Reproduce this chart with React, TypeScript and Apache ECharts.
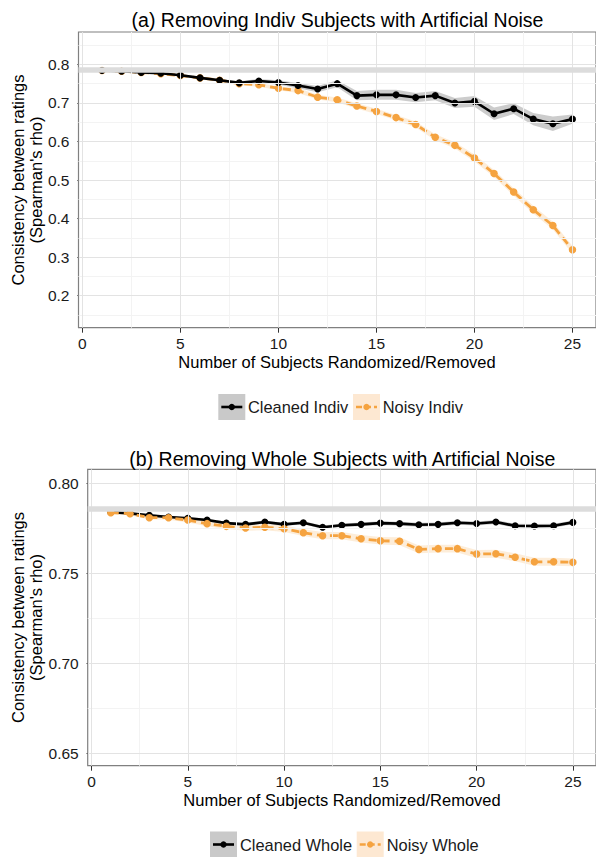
import { useEffect, useRef } from "react";
import * as echarts from "echarts";

const FONT = "'Liberation Sans', Arial, Helvetica, sans-serif";

const xValues = [1, 2, 3, 4, 5, 6, 7, 8, 9, 10, 11, 12, 13, 14, 15, 16, 17, 18, 19, 20, 21, 22, 23, 24, 25];
const xTicks = [0, 5, 10, 15, 20, 25];
const xMinor = [2.5, 7.5, 12.5, 17.5, 22.5];

// (a) individual subjects
const cleanedIndiv = [0.784, 0.782, 0.779, 0.777, 0.772, 0.765, 0.759, 0.752, 0.757, 0.753, 0.745, 0.736, 0.750, 0.719, 0.721, 0.721, 0.714, 0.719, 0.700, 0.704, 0.672, 0.685, 0.658, 0.646, 0.658];
const cleanedIndivSpread = [0.002, 0.002, 0.002, 0.003, 0.003, 0.003, 0.004, 0.004, 0.005, 0.006, 0.007, 0.008, 0.009, 0.012, 0.013, 0.013, 0.012, 0.012, 0.013, 0.014, 0.016, 0.014, 0.016, 0.019, 0.012];
const noisyIndiv = [0.784, 0.782, 0.779, 0.776, 0.771, 0.765, 0.759, 0.750, 0.747, 0.738, 0.732, 0.715, 0.708, 0.692, 0.678, 0.662, 0.644, 0.611, 0.590, 0.557, 0.517, 0.469, 0.423, 0.382, 0.319];
const noisyIndivSpread = [0.002, 0.002, 0.002, 0.002, 0.003, 0.003, 0.003, 0.004, 0.005, 0.005, 0.006, 0.006, 0.006, 0.007, 0.007, 0.007, 0.008, 0.008, 0.008, 0.009, 0.009, 0.010, 0.010, 0.010, 0.010];
const yTicksA = [0.2, 0.3, 0.4, 0.5, 0.6, 0.7, 0.8];
const yMinorA = [0.15, 0.25, 0.35, 0.45, 0.55, 0.65, 0.75, 0.85];

// (b) whole subjects
const cleanedWhole = [0.7840, 0.7833, 0.7822, 0.7813, 0.7806, 0.7796, 0.7779, 0.7772, 0.7785, 0.7772, 0.7781, 0.7756, 0.7767, 0.7772, 0.7779, 0.7776, 0.7770, 0.7772, 0.7781, 0.7777, 0.7785, 0.7764, 0.7763, 0.7764, 0.7783];
const cleanedWholeSpread = [0.0004, 0.0005, 0.0006, 0.0006, 0.0007, 0.0007, 0.0008, 0.0008, 0.0009, 0.0009, 0.0009, 0.0010, 0.0010, 0.0010, 0.0010, 0.0011, 0.0011, 0.0011, 0.0011, 0.0011, 0.0011, 0.0011, 0.0011, 0.0011, 0.0011];
const noisyWhole = [0.7837, 0.7831, 0.7809, 0.7809, 0.7796, 0.7776, 0.7761, 0.7752, 0.7756, 0.7748, 0.7726, 0.7709, 0.7709, 0.7692, 0.7681, 0.7678, 0.7633, 0.7637, 0.7637, 0.7607, 0.7609, 0.7589, 0.7564, 0.7564, 0.7561];
const noisyWholeSpread = [0.0006, 0.0008, 0.0010, 0.0012, 0.0013, 0.0014, 0.0015, 0.0016, 0.0017, 0.0018, 0.0019, 0.0020, 0.0020, 0.0021, 0.0021, 0.0022, 0.0022, 0.0022, 0.0022, 0.0022, 0.0022, 0.0022, 0.0022, 0.0022, 0.0022];
const yTicksB = [0.65, 0.70, 0.75, 0.80];
const yMinorB = [0.675, 0.725, 0.775];

const referenceRho = 0.786;

const BLACK = "#000000";
const ORANGE = "#f5a340";
const GRAY_FILL = "rgba(0,0,0,0.2)";
const ORANGE_FILL = "rgba(245,163,64,0.2)";

function ribbon(idx: number, values: number[], spread: number[], fill: string, z: number) {
  const data = xValues.map((x, i) => [x, values[i] - spread[i], values[i] + spread[i]]);
  return {
    type: "custom",
    xAxisIndex: idx,
    yAxisIndex: idx,
    z,
    silent: true,
    data,
    encode: { x: 0, y: [1, 2] },
    renderItem: (params: any, api: any) => {
      if (params.dataIndex !== 0) return null;
      const upper = data.map((d) => api.coord([d[0], d[2]]));
      const lower = data.map((d) => api.coord([d[0], d[1]])).reverse();
      return {
        type: "polygon",
        shape: { points: upper.concat(lower) },
        style: { fill, stroke: "none" },
      };
    },
  };
}

function line(idx: number, name: string, values: number[], color: string, dashed: boolean, z: number) {
  return {
    type: "line",
    name,
    xAxisIndex: idx,
    yAxisIndex: idx,
    z,
    data: xValues.map((x, i) => [x, values[i]]),
    symbol: "circle",
    symbolSize: dashed ? 7.5 : 7,
    showSymbol: true,
    itemStyle: { color },
    lineStyle: { color, width: dashed ? 2.8 : 2.6, type: dashed ? [8, 5] : "solid" },
    emphasis: { disabled: true },
    silent: true,
  };
}

function guides(idx: number, yMajor: number[], yMinor: number[]) {
  const minorStyle = { color: "#f3f3f3", width: 1, type: "solid" };
  const majorStyle = { color: "#e3e3e3", width: 1, type: "solid" };
  return [
    {
      type: "line",
      xAxisIndex: idx,
      yAxisIndex: idx,
      z: 0,
      silent: true,
      data: [],
      markLine: {
        silent: true,
        symbol: "none",
        precision: 6,
        animation: false,
        label: { show: false },
        data: [
          ...xMinor.map((v) => ({ xAxis: v, lineStyle: minorStyle })),
          ...yMinor.map((v) => ({ yAxis: v, lineStyle: minorStyle })),
          ...xTicks.map((v) => ({ xAxis: v, lineStyle: majorStyle })),
          ...yMajor.map((v) => ({ yAxis: v, lineStyle: majorStyle })),
        ],
      },
    },
    {
      type: "line",
      xAxisIndex: idx,
      yAxisIndex: idx,
      z: 1,
      silent: true,
      data: [],
      markLine: {
        silent: true,
        symbol: "none",
        precision: 6,
        animation: false,
        label: { show: false },
        data: [{ yAxis: referenceRho, lineStyle: { color: "#dcdcdc", width: 5.5, type: "solid" } }],
      },
    },
  ];
}

function xAxis(idx: number) {
  return {
    type: "value",
    gridIndex: idx,
    min: -0.2,
    max: 26.2,
    splitLine: { show: false },
    axisLine: { show: false },
    axisTick: { show: true, length: 5, customValues: xTicks, lineStyle: { color: "#333333", width: 1 } },
    axisLabel: {
      customValues: xTicks,
      margin: 8,
      fontSize: 15.5,
      lineHeight: 16,
      color: "#1a1a1a",
      fontFamily: FONT,
    },
  };
}

function yAxis(idx: number, min: number, max: number, ticks: number[], digits: number) {
  return {
    type: "value",
    gridIndex: idx,
    min,
    max,
    splitLine: { show: false },
    axisLine: { show: false },
    axisTick: { show: true, length: 5, customValues: ticks, lineStyle: { color: "#333333", width: 1 } },
    axisLabel: {
      customValues: ticks,
      margin: 9,
      fontSize: 15.5,
      lineHeight: 16,
      color: "#1a1a1a",
      fontFamily: FONT,
      formatter: (v: number) => v.toFixed(digits),
    },
  };
}

function legendGroup(cy: number, labels: string[], textXs: number[], boxXs: number[]) {
  const els: any[] = [];
  const fills = ["#c9c9c9", "#fde8d2"];
  const colors = [BLACK, ORANGE];
  for (let k = 0; k < 2; k++) {
    const bx = boxXs[k];
    els.push({ type: "rect", shape: { x: bx, y: cy - 13, width: 27, height: 26 }, style: { fill: fills[k] }, silent: true });
    els.push({
      type: "line",
      shape: { x1: bx + 3, y1: cy, x2: bx + 24, y2: cy },
      style: { stroke: colors[k], lineWidth: 2.6, lineDash: k === 1 ? [6, 3] : null },
      silent: true,
    });
    els.push({ type: "circle", shape: { cx: bx + 13.5, cy, r: 3.2 }, style: { fill: colors[k] }, silent: true });
    els.push({
      type: "text",
      x: textXs[k],
      y: cy,
      style: { text: labels[k], fontSize: 16.4, lineHeight: 18, fontFamily: FONT, fill: "#1a1a1a", align: "left", verticalAlign: "middle" },
      silent: true,
    });
  }
  return els;
}

function textEl(text: string, x: number, y: number, fontSize: number, rotation = 0, lineHeight?: number) {
  return {
    type: "text",
    x,
    y,
    rotation,
    silent: true,
    style: {
      text,
      fontSize,
      fontFamily: FONT,
      fill: "#000000",
      align: "center",
      verticalAlign: "middle",
      lineHeight: lineHeight || Math.round(fontSize * 1.05),
    },
  };
}

export default function App() {
  const ref = useRef<HTMLDivElement>(null);
  useEffect(() => {
    if (!ref.current) return;
    const chart = echarts.init(ref.current, null, { renderer: "svg" });
    const option: any = {
      animation: false,
      backgroundColor: "#ffffff",
      grid: [
        { left: 78.5, top: 32, width: 518.5, height: 295.7, show: true, borderColor: "#808080", borderWidth: 1.2, backgroundColor: "transparent" },
        { left: 87.7, top: 469.3, width: 509.5, height: 296.4, show: true, borderColor: "#808080", borderWidth: 1.2, backgroundColor: "transparent" },
      ],
      xAxis: [xAxis(0), xAxis(1)],
      yAxis: [yAxis(0, 0.117, 0.884, yTicksA, 1), yAxis(1, 0.6431, 0.8078, yTicksB, 2)],
      series: [
        ...guides(0, yTicksA, yMinorA),
        ribbon(0, cleanedIndiv, cleanedIndivSpread, GRAY_FILL, 2),
        ribbon(0, noisyIndiv, noisyIndivSpread, ORANGE_FILL, 2),
        line(0, "Noisy Indiv", noisyIndiv, ORANGE, true, 3),
        line(0, "Cleaned Indiv", cleanedIndiv, BLACK, false, 4),
        ...guides(1, yTicksB, yMinorB),
        ribbon(1, cleanedWhole, cleanedWholeSpread, GRAY_FILL, 2),
        ribbon(1, noisyWhole, noisyWholeSpread, ORANGE_FILL, 2),
        line(1, "Cleaned Whole", cleanedWhole, BLACK, false, 3),
        line(1, "Noisy Whole", noisyWhole, ORANGE, true, 4),
      ],
      graphic: [
        textEl("(a) Removing Indiv Subjects with Artificial Noise", 337.5, 19.5, 19.5),
        textEl("(b) Removing Whole Subjects with Artificial Noise", 342.3, 458.5, 19.5),
        textEl("Number of Subjects Randomized/Removed", 337, 362, 16.5),
        textEl("Number of Subjects Randomized/Removed", 342, 800, 16.5),
        textEl("Consistency between ratings\n(Spearman's rho)", 27, 180, 16.5, Math.PI / 2, 18.5),
        textEl("Consistency between ratings\n(Spearman's rho)", 27, 617.5, 16.5, Math.PI / 2, 18.5),
        ...legendGroup(407, ["Cleaned Indiv", "Noisy Indiv"], [248, 382.7], [218.3, 353]),
        ...legendGroup(844.5, ["Cleaned Whole", "Noisy Whole"], [240, 386.7], [210, 356.7]),
      ],
    };
    chart.setOption(option);
    return () => chart.dispose();
  }, []);
  return (
    <div
      ref={ref}
      style={{ position: "absolute", left: 0, top: 0, width: 596, height: 857, background: "#fff" }}
    />
  );
}
